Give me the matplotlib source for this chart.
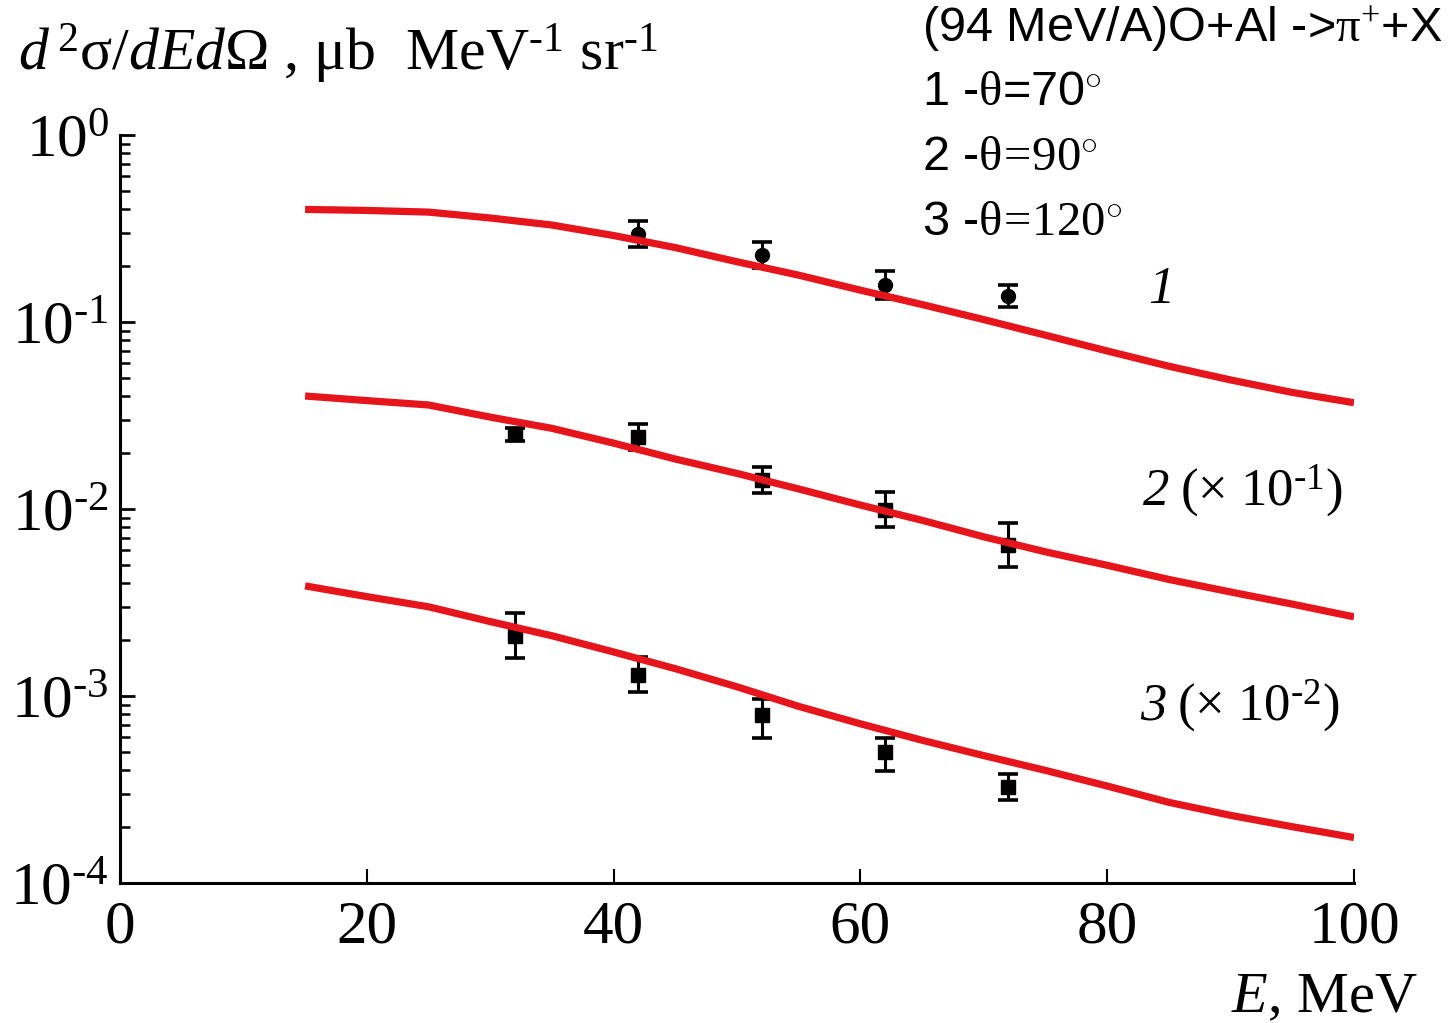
import matplotlib
matplotlib.use("Agg")
import matplotlib.pyplot as plt
from matplotlib.ticker import LogLocator, FixedLocator, NullFormatter
import numpy as np

plt.rcParams['mathtext.fontset'] = 'custom'
plt.rcParams['mathtext.rm'] = 'Liberation Serif'
plt.rcParams['mathtext.it'] = 'Liberation Serif:italic'
plt.rcParams['mathtext.sf'] = 'Liberation Sans'
plt.rcParams['font.family'] = ['Liberation Serif', 'DejaVu Serif']

HY = '\u2010'  # short hyphen used as minus sign in superscripts

# ---- data ----
E_curve = [15, 20, 25, 30, 35, 40, 45, 50, 55, 60, 65, 70, 75, 80, 85, 90, 95, 100]
curve1 = [0.40, 0.395, 0.387, 0.36, 0.33, 0.29, 0.25, 0.21, 0.178, 0.148, 0.124,
          0.103, 0.085, 0.070, 0.058, 0.049, 0.042, 0.037]
curve2 = [0.0402, 0.038, 0.036, 0.031, 0.027, 0.0225, 0.0185, 0.0155, 0.0128, 0.0105,
          0.0087, 0.0071, 0.0059, 0.0050, 0.0042, 0.0036, 0.0031, 0.00265]
curve3 = [0.00388, 0.0034, 0.0030, 0.0025, 0.0021, 0.00172, 0.00140, 0.00112, 0.00088,
          0.00071, 0.00058, 0.00048, 0.00040, 0.00033, 0.00027, 0.00023, 0.00020, 0.000175]

E1 = [42, 52, 62, 72]
y1 = [0.296, 0.228, 0.158, 0.138]
y1_lo = [0.253, 0.195, 0.133, 0.120]
y1_hi = [0.347, 0.268, 0.187, 0.158]

E2 = [32, 42, 52, 62, 72]
y2 = [0.0252, 0.0243, 0.0143, 0.0099, 0.0064]
y2_lo = [0.0232, 0.0207, 0.0122, 0.0080, 0.0049]
y2_hi = [0.0272, 0.0285, 0.0168, 0.0123, 0.0084]

E3 = [32, 42, 52, 62, 72]
y3 = [0.00209, 0.00129, 0.00079, 0.000502, 0.000326]
y3_lo = [0.00160, 0.00105, 0.000596, 0.000397, 0.000278]
y3_hi = [0.00278, 0.00162, 0.00096, 0.000596, 0.000383]

x_ticks = [0, 20, 40, 60, 80, 100]
y_ticks = [1e-4, 1e-3, 1e-2, 1e-1, 1e0]
y_ticklabels = [r'$10^{%s4}$' % HY, r'$10^{%s3}$' % HY, r'$10^{%s2}$' % HY,
                r'$10^{%s1}$' % HY, r'$10^{0}$']

RED = '#e5151b'

fig = plt.figure(figsize=(14.52, 10.23), dpi=100)
ax = fig.add_axes([120/1452, 1-883/1023, (1354-120)/1452, (883-135)/1023])

for c in (curve1, curve2, curve3):
    ax.plot(E_curve, c, color=RED, lw=5.2, solid_capstyle='butt', zorder=3)

def eb(E, y, lo, hi, marker):
    y = np.array(y); lo = np.array(lo); hi = np.array(hi)
    ax.errorbar(E, y, yerr=[y - lo, hi - y], fmt=marker, color='black', ms=10,
                ecolor='black', elinewidth=2.2, capsize=7, capthick=2.6, zorder=2)

eb(E1, y1, y1_lo, y1_hi, 'o')
eb(E2, y2, y2_lo, y2_hi, 's')
eb(E3, y3, y3_lo, y3_hi, 's')

ax.set_yscale('log')
ax.set_xlim(0, 100)
ax.set_ylim(1e-4, 1)
ax.xaxis.set_major_locator(FixedLocator(x_ticks))
ax.set_xticklabels([str(t) for t in x_ticks])
ax.yaxis.set_major_locator(FixedLocator(y_ticks))
ax.set_yticklabels(y_ticklabels)
ax.yaxis.set_minor_locator(LogLocator(base=10, subs=np.arange(2, 10)))
ax.yaxis.set_minor_formatter(NullFormatter())

for s in ('top', 'right'):
    ax.spines[s].set_visible(False)
for s in ('left', 'bottom'):
    ax.spines[s].set_linewidth(2.2)

ax.tick_params(axis='x', which='major', direction='in', length=10, width=1.5,
               labelsize=44, pad=12)
ax.tick_params(axis='y', which='major', direction='in', length=11, width=2,
               labelsize=44, pad=8)
ax.tick_params(axis='y', which='minor', direction='in', length=7, width=1.8)

# axis titles
fig.text(18/1452, 1-70/1023,
         r'$\mathit{d}^{\,2}\mathrm{σ}/\mathit{dEd}\mathrm{Ω}$ , μb  MeV$^{\mathrm{%s1}}$ sr$^{\mathrm{%s1}}$' % (HY, HY),
         fontsize=43, ha='left', va='baseline')
fig.text(1418/1452, 1-1012/1023, r'$\mathit{E}$, MeV', fontsize=42,
         ha='right', va='baseline')

# legend text (top right)
LFS = 35
fig.text(922/1452, 1-42/1023, r'(94 MeV/A)O+Al ->$\mathrm{π}^{+}$+X',
         fontsize=LFS, ha='left', va='baseline', family='Liberation Sans')
fig.text(922/1452, 1-105/1023, r'1 -$\mathrm{θ}$=70$^{\circ}$',
         fontsize=LFS, ha='left', va='baseline', family='Liberation Sans')
fig.text(922/1452, 1-170/1023, r'2 -$\mathrm{θ\!=\!90}^{\circ}$',
         fontsize=LFS, ha='left', va='baseline', family='Liberation Sans')
fig.text(922/1452, 1-235/1023, r'3 -$\mathrm{θ\!=\!120}^{\circ}$',
         fontsize=LFS, ha='left', va='baseline', family='Liberation Sans')

# curve labels
CFS = 38
fig.text(1148/1452, 1-303/1023, '1', fontsize=CFS, style='italic', ha='left', va='baseline')
fig.text(1143/1452, 1-505/1023, '2', fontsize=CFS, style='italic', ha='left', va='baseline')
fig.text(1180/1452, 1-505/1023, r'(× 10$^{\mathrm{%s1}}$)' % HY, fontsize=CFS,
         ha='left', va='baseline')
fig.text(1140/1452, 1-720/1023, '3', fontsize=CFS, style='italic', ha='left', va='baseline')
fig.text(1177/1452, 1-720/1023, r'(× 10$^{\mathrm{%s2}}$)' % HY, fontsize=CFS,
         ha='left', va='baseline')

fig.savefig('out.png', dpi=100)
